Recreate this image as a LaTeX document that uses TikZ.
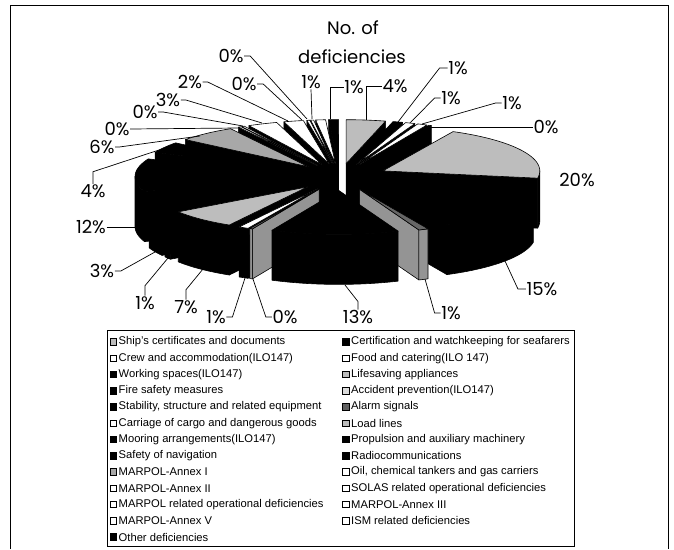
\documentclass[tikz,border=0pt]{standalone}
\usepackage{fontspec}
\setmainfont{Liberation Sans}
\newfontfamily\labfont{Poppins}
\colorlet{dotA}{black!26}
\colorlet{dotB}{black!34}
\colorlet{hatA}{black!62}
\colorlet{accTop}{black!60}
\colorlet{accSide}{black!42}
\colorlet{lightA}{black!14}
\def\pcx{340}\def\pcy{177}\def\pR{157}\def\pe{48}\def\pk{0.28}\def\ph{50}\def\pscale{3.644}
\newcommand\pieslice[4]{%
  \pgfmathsetmacro\psS{#1*\pscale}%
  \pgfmathsetmacro\psE{#2*\pscale}%
  \pgfmathsetmacro\psM{(\psS+\psE)/2}%
  \pgfmathsetmacro\psTx{\pcx+\pe*sin(\psM)}%
  \pgfmathsetmacro\psTy{\pcy-\pk*\pe*cos(\psM)}%
  \pgfmathsetmacro\psSx{\psTx+\pR*sin(\psS)}%
  \pgfmathsetmacro\psSy{\psTy-\pk*\pR*cos(\psS)}%
  \pgfmathsetmacro\psEx{\psTx+\pR*sin(\psE)}%
  \pgfmathsetmacro\psEy{\psTy-\pk*\pR*cos(\psE)}%
  \pgfmathsetmacro\psSs{sin(\psS)}%
  \pgfmathsetmacro\psEs{sin(\psE)}%
  \pgfmathsetmacro\psLo{max(\psS,90)}%
  \pgfmathsetmacro\psHi{min(\psE,270)}%
  \ifdim\psSs pt<-0.001pt
    \path[face,fill=#4] (\psTx,\psTy) -- (\psSx,\psSy) -- (\psSx,\psSy+\ph) -- (\psTx,\psTy+\ph) -- cycle;
  \fi
  \ifdim\psEs pt>0.001pt
    \path[face,fill=#4] (\psTx,\psTy) -- (\psEx,\psEy) -- (\psEx,\psEy+\ph) -- (\psTx,\psTy+\ph) -- cycle;
  \fi
  \ifdim\psLo pt<\psHi pt
    \path[face,fill=#4] plot[domain=\psLo:\psHi,samples=40] ({\psTx+\pR*sin(\x)},{\psTy-\pk*\pR*cos(\x)})
      -- plot[domain=\psHi:\psLo,samples=40] ({\psTx+\pR*sin(\x)},{\psTy-\pk*\pR*cos(\x)+\ph}) -- cycle;
  \fi
  \path[face,fill=#3] (\psTx,\psTy) -- plot[domain=\psS:\psE,samples=40] ({\psTx+\pR*sin(\x)},{\psTy-\pk*\pR*cos(\x)}) -- cycle;
}
\newcommand\legitem[5]{%
  \node[legbox,fill=#4] (#1b) at (#2,#3) {};
  \node[legtext] (#1) at (#2+5,#3) {#5};
}
\begin{document}
\begin{tikzpicture}[x=1pt,y=-1pt,
  frameline/.style={draw=black,line width=1pt},
  leader/.style={draw=black,line width=0.7pt},
  pct/.style={font=\labfont\fontsize{18}{18}\selectfont,inner sep=0.5pt},
  ttl/.style={font=\labfont\fontsize{18}{18}\selectfont,inner sep=0pt},
  face/.style={draw=black,line width=0.6pt,line join=round},
  legtext/.style={font=\fontsize{11.2}{12}\selectfont,anchor=west,inner sep=0pt},
  legbox/.style={draw=black,line width=0.8pt,minimum size=6.5pt,inner sep=0pt}]
\useasboundingbox (0,0) rectangle (674,549);
\draw[frameline] (10,549) -- (10,5) -- (668,5) -- (668,549);
\node[ttl] (t1) at (353,28) {No. of};
\node[ttl] (t2) at (352,57) {deficiencies};
% dark core seen between the exploded slices
\fill[black] (346,198) -- (372,178) -- (395,180) -- (402,222) -- (330,232) -- cycle;
% pie slices, back to front
\pieslice{97.8}{98.8}{black}{black}
\pieslice{96.8}{97.8}{white}{black}
\pieslice{0}{4}{dotA}{black}
\pieslice{96.5}{96.8}{white}{black}
\pieslice{96.2}{96.5}{white}{black}
\pieslice{94.2}{96.2}{white}{black}
\pieslice{4}{5}{black}{black}
\pieslice{5}{6}{white}{black}
\pieslice{91.2}{94.2}{white}{black}
\pieslice{6}{7}{white}{black}
\pieslice{7}{7.3}{black}{black}
\pieslice{90.9}{91.2}{white}{black}
\pieslice{90.6}{90.9}{white}{black}
\pieslice{84.6}{90.6}{dotB}{black}
\pieslice{80.6}{84.6}{black}{black}
\pieslice{7.3}{27.3}{dotA}{black}
\pieslice{68.6}{80.6}{black}{black}
\pieslice{65.6}{68.6}{black}{black}
\pieslice{64.6}{65.6}{black}{black}
\pieslice{27.3}{42.3}{black}{black}
\pieslice{57.6}{64.6}{dotA}{black}
\pieslice{56.6}{57.6}{white}{black}
\pieslice{56.3}{56.6}{hatA}{accSide}
\pieslice{42.3}{43.3}{accTop}{accSide}
\pieslice{43.3}{56.3}{black}{black}
% labels and leaders
\node[pct] (L1) at (395,86) {4\%};
\coordinate (p1) at (366,120);
\draw[leader] (L1.west) -| (p1);
\node[pct] (L2) at (458,68) {1\%};
\coordinate (p2) at (398,122);
\draw[leader] (L2.west) -- ++(-8,0) -- (p2);
\node[pct] (L3) at (451,98) {1\%};
\coordinate (p3) at (410,123);
\draw[leader] (L3.west) -- ++(-6,0) -- (p3);
\node[pct] (L4) at (512,103) {1\%};
\coordinate (p4) at (422,124);
\draw[leader] (L4.west) -- ++(-6,0) -- (p4);
\node[pct] (L5) at (546,127) {0\%};
\coordinate (p5) at (431,127);
\draw[leader] (L5.west) -- (p5);
\node[pct] (L6) at (577,180) {20\%};
\node[pct] (L7) at (542,289) {15\%};
\coordinate (p7) at (505,261);
\draw[leader] (L7.west) -- ++(-8,0) -- (p7);
\node[pct] (L8) at (451,313) {1\%};
\coordinate (p8) at (425,279);
\draw[leader] (L8.west) -- ++(-6,0) -- (p8);
\node[pct] (L9) at (358,317) {13\%};
\coordinate (p9) at (345,285);
\draw[leader] (L9.north) -- ++(0,-8) -- (p9);
\node[pct] (L10) at (285,317) {0\%};
\coordinate (p10) at (253,279);
\draw[leader] (L10.west) -- ++(-6,0) -- (p10);
\node[pct] (L11) at (216,317) {1\%};
\coordinate (p11) at (245,278);
\draw[leader] (L11.east) -- ++(6,0) -- (p11);
\node[pct] (L12) at (186,307) {7\%};
\coordinate (p12) at (203,269);
\draw[leader] (L12.north) -- ++(0,-10) -- (p12);
\node[pct] (L13) at (145,303) {1\%};
\coordinate (p13) at (168,258);
\draw[leader] (L13.north) -- ++(0,-10) -- (p13);
\node[pct] (L14) at (102,271) {3\%};
\coordinate (p14) at (155,252);
\draw[leader] (L14.east) -- ++(6,0) -- (p14);
\node[pct] (L15) at (91,227) {12\%};
\coordinate (p15) at (136,227);
\draw[leader] (L15.east) -- (p15);
\node[pct] (L16) at (93,191) {4\%};
\coordinate (p16) at (162,149);
\draw[leader] (L16.north) -- ++(0,-12) -- (p16);
\node[pct] (L17) at (102,147) {6\%};
\coordinate (p17) at (200,136);
\draw[leader] (L17.east) -- ++(4,0) -- (p17);
\node[pct] (L18) at (117,129) {0\%};
\coordinate (p18) at (238,128);
\draw[leader] (L18.east) -- (p18);
\node[pct] (L19) at (145,112) {0\%};
\coordinate (p19) at (243,126);
\draw[leader] (L19.east) -- ++(5,0) -- (p19);
\node[pct] (L20) at (168,100) {3\%};
\coordinate (p20) at (262,123);
\draw[leader] (L20.east) -- ++(5,0) -- (p20);
\node[pct] (L21) at (190,82) {2\%};
\coordinate (p21) at (288,121);
\draw[leader] (L21.east) -- ++(5,0) -- (p21);
\node[pct] (L22) at (244,84) {0\%};
\coordinate (p22) at (302,120);
\draw[leader] (L22.east) -- ++(6,0) -- (p22);
\node[pct] (L23) at (231,56) {0\%};
\coordinate (p23) at (307,119);
\draw[leader] (L23.east) -- ++(6,0) -- (p23);
\node[pct] (L24) at (311,82) {1\%};
\coordinate (p24) at (312,119);
\draw[leader] (L24.south) -- (p24);
\node[pct] (L25) at (354,87) {1\%};
\coordinate (p25) at (330,119);
\draw[leader] (L25.west) -| (p25);
% legend
\node[draw=black,line width=0.8pt,minimum width=467pt,minimum height=216pt,inner sep=0pt,anchor=north west] (leg) at (107,330) {};
\legitem{g1}{113.5}{342}{dotA}{Ship’s certificates and documents}
\legitem{g2}{346}{342}{black}{Certification and watchkeeping for seafarers}
\legitem{g3}{113.5}{358.25}{white}{Crew and accommodation(ILO147)}
\legitem{g4}{346}{358.25}{white}{Food and catering(ILO 147)}
\legitem{g5}{113.5}{374.5}{black}{Working spaces(ILO147)}
\legitem{g6}{346}{374.5}{dotA}{Lifesaving appliances}
\legitem{g7}{113.5}{390.75}{black}{Fire safety measures}
\legitem{g8}{346}{390.75}{lightA}{Accident prevention(ILO147)}
\legitem{g9}{113.5}{407}{black}{Stability, structure and related equipment}
\legitem{g10}{346}{407}{hatA}{Alarm signals}
\legitem{g11}{113.5}{423.25}{white}{Carriage of cargo and dangerous goods}
\legitem{g12}{346}{423.25}{dotA}{Load lines}
\legitem{g13}{113.5}{439.5}{black}{Mooring arrangements(ILO147)}
\legitem{g14}{346}{439.5}{black}{Propulsion and auxiliary machinery}
\legitem{g15}{113.5}{455.75}{black}{Safety of navigation}
\legitem{g16}{346}{455.75}{black}{Radiocommunications}
\legitem{g17}{113.5}{472}{dotB}{MARPOL-Annex I}
\legitem{g18}{346}{472}{white}{Oil, chemical tankers and gas carriers}
\legitem{g19}{113.5}{488.25}{white}{MARPOL-Annex II}
\legitem{g20}{346}{488.25}{white}{SOLAS related operational deficiencies}
\legitem{g21}{113.5}{504.5}{white}{MARPOL related operational deficiencies}
\legitem{g22}{346}{504.5}{white}{MARPOL-Annex III}
\legitem{g23}{113.5}{520.75}{white}{MARPOL-Annex V}
\legitem{g24}{346}{520.75}{white}{ISM related deficiencies}
\legitem{g25}{113.5}{537}{black}{Other deficiencies}
\end{tikzpicture}
\end{document}
